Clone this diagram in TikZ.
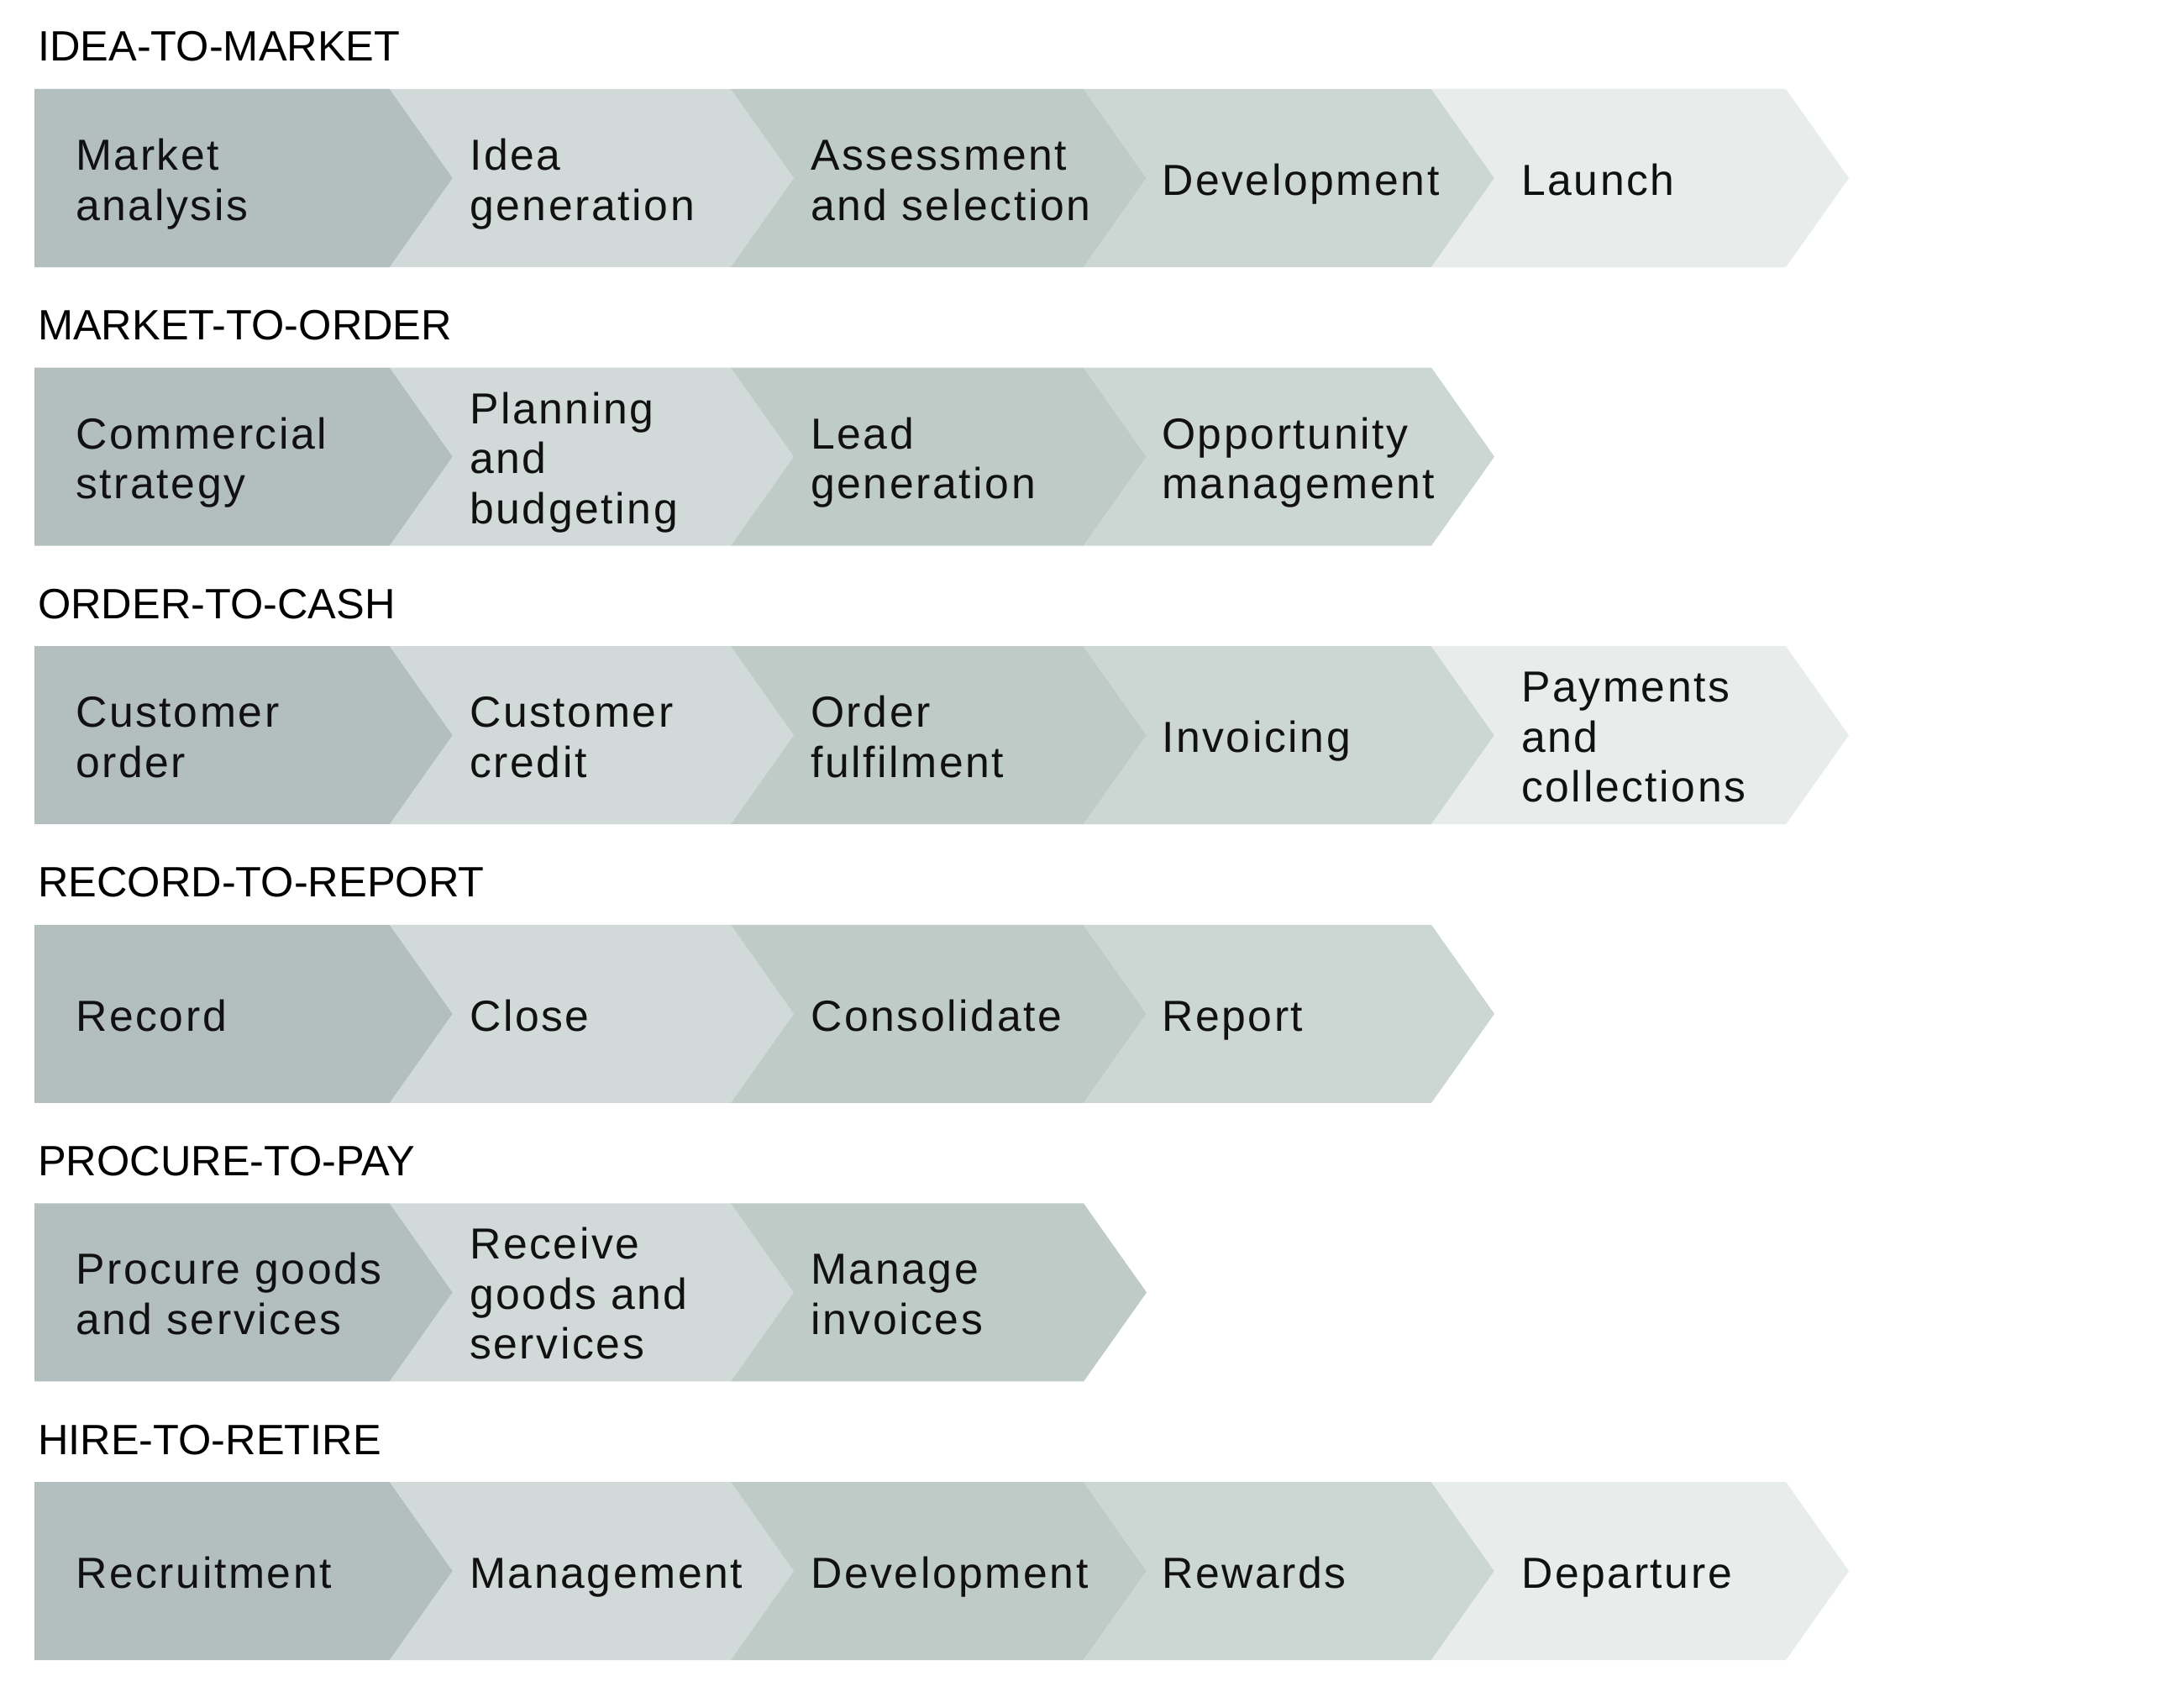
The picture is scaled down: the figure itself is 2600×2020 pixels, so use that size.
\documentclass[tikz,border=0pt]{standalone}
\usepackage{fontspec}
\setmainfont{Liberation Sans}
\newfontfamily\bodyfont[LetterSpace=5]{Liberation Sans}
\definecolor{cA}{HTML}{B3BFBE}
\definecolor{cB}{HTML}{D1DAD9}
\definecolor{cC}{HTML}{BFCBC7}
\definecolor{cD}{HTML}{CCD6D3}
\definecolor{cE}{HTML}{E8ECEB}
\definecolor{ink}{HTML}{111111}
% #1 left x, #2 right x, #3 top y, #4 colour, #5 notch depth
\newcommand\chevpath[5]{%
  \fill[#4] (#1,#3) -- (#2,#3) -- (#2+75,#3+106) -- (#2,#3+212) -- (#1,#3+212) -- (#1+#5,#3+106) -- cycle;}
% #1 name, #2 x, #3 row top, #4 number of lines, #5 text (base anchor = last line)
\newcommand\chevlabel[5]{%
  \node[lab] (#1) at (#2,{#3+126.5+(#4-1)*29.5}) {#5};}
\begin{document}
\begin{tikzpicture}[x=1pt,y=-1pt,
  lab/.style={anchor=base west, inner sep=0pt, align=left, text=ink,
    font=\bodyfont\fontsize{51.7}{59.5}\selectfont},
  ttl/.style={anchor=base west, inner sep=0pt, text=black,
    font=\fontsize{50.5}{59}\selectfont}]
\useasboundingbox[fill=white] (0,0) rectangle (2600,2020);
% ---------- Row 1 ----------
\def\rt{106}
\node[ttl] (t1) at (45,\rt-33) {IDEA-TO-MARKET};
\chevpath{41}{464}{\rt}{cA}{0}
\chevpath{464}{870}{\rt}{cB}{75}
\chevpath{870}{1290}{\rt}{cC}{75}
\chevpath{1290}{1704}{\rt}{cD}{75}
\chevpath{1704}{2126}{\rt}{cE}{75}
\chevlabel{r1a}{90}{\rt}{2}{Market\\analysis}
\chevlabel{r1b}{559}{\rt}{2}{Idea\\generation}
\chevlabel{r1c}{965}{\rt}{2}{Assessment\\and selection}
\chevlabel{r1d}{1383}{\rt}{1}{Development}
\chevlabel{r1e}{1811}{\rt}{1}{Launch}
% ---------- Row 2 ----------
\def\rt{437.6}
\node[ttl] (t2) at (45,\rt-33) {MARKET-TO-ORDER};
\chevpath{41}{464}{\rt}{cA}{0}
\chevpath{464}{870}{\rt}{cB}{75}
\chevpath{870}{1290}{\rt}{cC}{75}
\chevpath{1290}{1704}{\rt}{cD}{75}
\chevlabel{r2a}{90}{\rt}{2}{Commercial\\strategy}
\chevlabel{r2b}{559}{\rt}{3}{Planning\\and\\budgeting}
\chevlabel{r2c}{965}{\rt}{2}{Lead\\generation}
\chevlabel{r2d}{1383}{\rt}{2}{Opportunity\\management}
% ---------- Row 3 ----------
\def\rt{769.2}
\node[ttl] (t3) at (45,\rt-33) {ORDER-TO-CASH};
\chevpath{41}{464}{\rt}{cA}{0}
\chevpath{464}{870}{\rt}{cB}{75}
\chevpath{870}{1290}{\rt}{cC}{75}
\chevpath{1290}{1704}{\rt}{cD}{75}
\chevpath{1704}{2126}{\rt}{cE}{75}
\chevlabel{r3a}{90}{\rt}{2}{Customer\\order}
\chevlabel{r3b}{559}{\rt}{2}{Customer\\credit}
\chevlabel{r3c}{965}{\rt}{2}{Order\\fulfilment}
\chevlabel{r3d}{1383}{\rt}{1}{Invoicing}
\chevlabel{r3e}{1811}{\rt}{3}{Payments\\and\\collections}
% ---------- Row 4 ----------
\def\rt{1100.8}
\node[ttl] (t4) at (45,\rt-33) {RECORD-TO-REPORT};
\chevpath{41}{464}{\rt}{cA}{0}
\chevpath{464}{870}{\rt}{cB}{75}
\chevpath{870}{1290}{\rt}{cC}{75}
\chevpath{1290}{1704}{\rt}{cD}{75}
\chevlabel{r4a}{90}{\rt}{1}{Record}
\chevlabel{r4b}{559}{\rt}{1}{Close}
\chevlabel{r4c}{965}{\rt}{1}{Consolidate}
\chevlabel{r4d}{1383}{\rt}{1}{Report}
% ---------- Row 5 ----------
\def\rt{1432.4}
\node[ttl] (t5) at (45,\rt-33) {PROCURE-TO-PAY};
\chevpath{41}{464}{\rt}{cA}{0}
\chevpath{464}{870}{\rt}{cB}{75}
\chevpath{870}{1290}{\rt}{cC}{75}
\chevlabel{r5a}{90}{\rt}{2}{Procure goods\\and services}
\chevlabel{r5b}{559}{\rt}{3}{Receive\\goods and\\services}
\chevlabel{r5c}{965}{\rt}{2}{Manage\\invoices}
% ---------- Row 6 ----------
\def\rt{1764}
\node[ttl] (t6) at (45,\rt-33) {HIRE-TO-RETIRE};
\chevpath{41}{464}{\rt}{cA}{0}
\chevpath{464}{870}{\rt}{cB}{75}
\chevpath{870}{1290}{\rt}{cC}{75}
\chevpath{1290}{1704}{\rt}{cD}{75}
\chevpath{1704}{2126}{\rt}{cE}{75}
\chevlabel{r6a}{90}{\rt}{1}{Recruitment}
\chevlabel{r6b}{559}{\rt}{1}{Management}
\chevlabel{r6c}{965}{\rt}{1}{Development}
\chevlabel{r6d}{1383}{\rt}{1}{Rewards}
\chevlabel{r6e}{1811}{\rt}{1}{Departure}
\end{tikzpicture}
\end{document}
